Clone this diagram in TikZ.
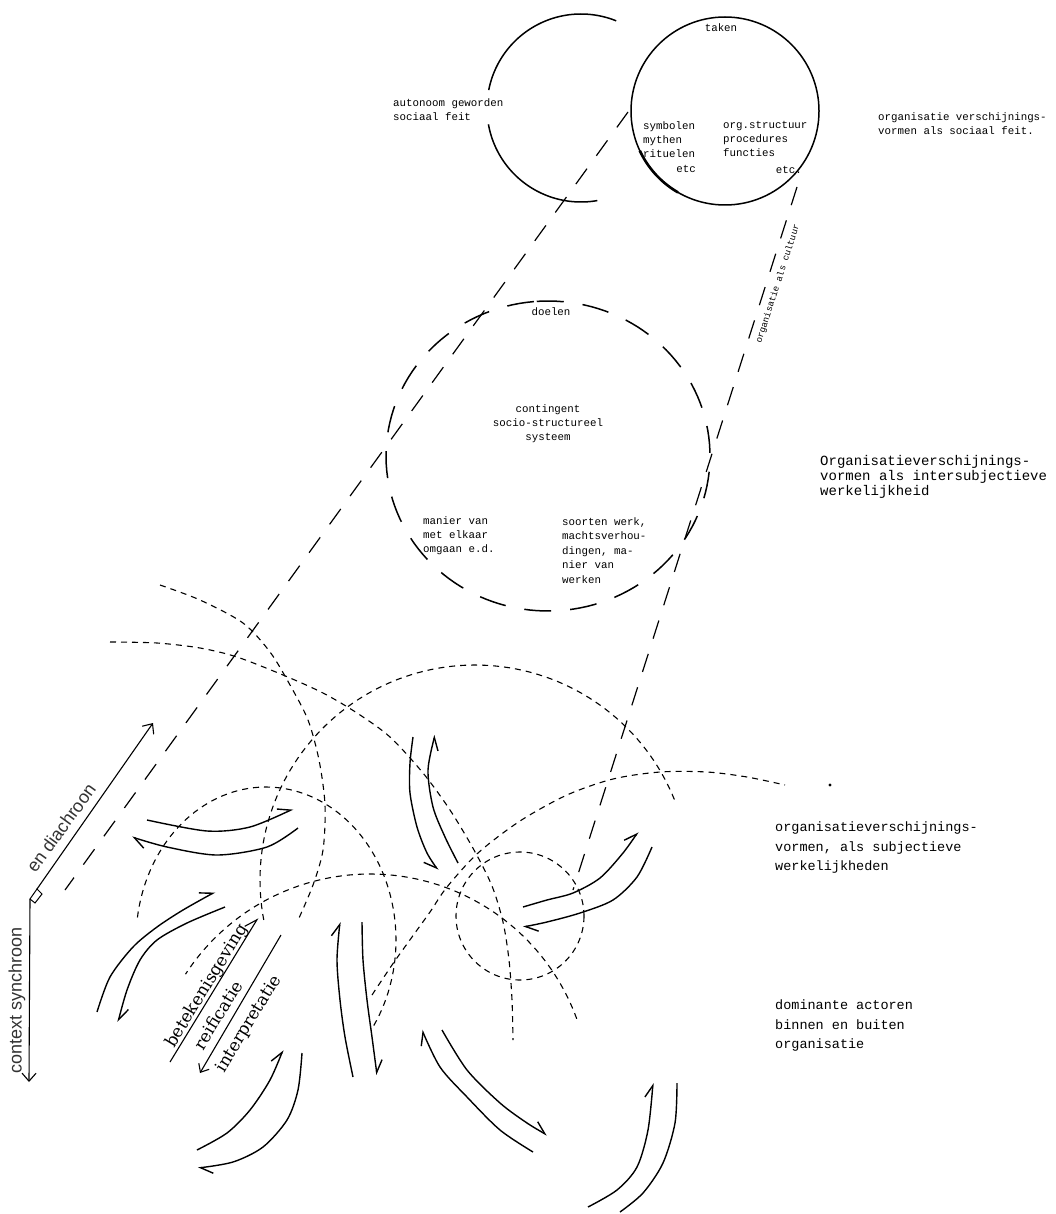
\documentclass[tikz,border=0pt]{standalone}
\usepackage{fontspec}
\newfontfamily\twf{Liberation Mono}
\newfontfamily\sansf{Liberation Sans}
\newfontfamily\serf{DejaVu Serif}
\usetikzlibrary{arrows.meta}
\begin{document}
\begin{tikzpicture}[x=1pt,y=-1pt,
  solidc/.style={line width=1.5pt},
  ldash/.style={line width=1.2pt, dash pattern=on 19pt off 16pt},
  cdash/.style={line width=1.5pt, dash pattern=on 27pt off 19pt},
  sdash/.style={line width=1.1pt, dash pattern=on 6pt off 5pt},
  hl/.style={line width=1.4pt, -{Straight Barb[harpoon,length=12pt,width=14pt]}},
  hr/.style={line width=1.4pt, -{Straight Barb[harpoon,swap,length=12pt,width=14pt]}},
  hand/.style={line width=1.4pt},
  axisarr/.style={line width=1.1pt, -{Straight Barb[length=8pt,width=14pt]}},
  tws/.style={font=\twf\fontsize{10.8}{14}\selectfont, inner sep=0pt, align=left},
  twm/.style={font=\twf\fontsize{10.8}{13.5}\selectfont, inner sep=0pt},
  twb/.style={font=\twf\fontsize{14}{15}\selectfont, inner sep=0pt, align=left},
  twc/.style={font=\twf\fontsize{13.5}{19.5}\selectfont, inner sep=0pt, align=left},
  axtext/.style={font=\sansf\fontsize{18}{20}\selectfont, inner sep=0pt, text=black!80},
  sertext/.style={font=\serf\fontsize{17}{19}\selectfont, inner sep=0pt, rotate=58.6},
]
\fill[white] (0,0) rectangle (1055,1214);
\useasboundingbox (0,0) rectangle (1055,1214);

% ---------- top circles ----------
\draw[solidc] plot[domain=68:169,samples=60] ({581+94*cos(\x)},{108-94*sin(\x)});
\draw[solidc] plot[domain=190:280,samples=60] ({581+94*cos(\x)},{108-94*sin(\x)});
\draw[solidc] (725,111) circle [radius=94pt];
\draw[line width=2.6pt] plot[domain=205:240,samples=30] ({725+94*cos(\x)},{111-94*sin(\x)});

\node[tws, anchor=north west] (auto) at (393,98) {autonoom geworden\\sociaal feit};
\node[twm] (taken) at (721,28) {taken};
\node[tws, anchor=north west] (symb) at (643,121) {symbolen\\mythen\\rituelen};
\node[twm, anchor=east] (etc1) at (696,169) {etc};
\node[tws, anchor=north west] (org) at (723,121) {org.structuur\\procedures\\functies};
\node[twm, anchor=east] (etc2) at (802,170) {etc.};
\node[tws, anchor=north west] (sfeit) at (878,112) {organisatie verschijnings-\\vormen als sociaal feit.};

% ---------- long dashed projection lines ----------
\coordinate (l1a) at (628,112);
\coordinate (l1b) at (65,890);
\coordinate (l2a) at (797,187);
\coordinate (l2b) at (573,890);
\draw[ldash] (l1a) -- (l1b);
\draw[ldash] (l2a) -- (l2b);
\node[font=\twf\fontsize{9}{10}\selectfont, inner sep=0pt, rotate=72] (cult) at (778,284) {organisatie als cultuur};

% ---------- middle dashed circle ----------
\draw[cdash] plot[domain=95:455,samples=140] ({548+162*cos(\x)},{456-155*sin(\x)});
\node[twm] (doelen) at (551,312) {doelen};
\node[tws, align=center] (cont) at (548,424) {contingent\\socio-structureel\\systeem};
\node[tws, anchor=north west] (manier) at (423,516) {manier van\\met elkaar\\omgaan e.d.};
\node[font=\twf\fontsize{10.8}{14.5}\selectfont, inner sep=0pt, align=left, anchor=north west] (soorten) at (562,517) {soorten werk,\\machtsverhou-\\dingen, ma-\\nier van\\werken};

\node[twb, anchor=north west] (inter) at (820,455) {Organisatieverschijnings-\\vormen als intersubjectieve\\werkelijkheid};

% ---------- bottom dashed circles ----------
\draw[sdash] plot[smooth] coordinates {(110,642) (157,643) (200,648) (237,657) (283,675) (323,693) (357,713) (390,737) (423,773) (450,810) (474,850) (492,886) (503,922) (509,960) (512,1000) (513,1040)};
\draw[sdash] plot[smooth] coordinates {(160,585) (200,600) (243,623) (270,652) (290,685) (308,720) (319,760) (325,805) (323,850) (313,885) (299,918)};
\draw[sdash] plot[domain=22:191,samples=90] ({475+215*cos(\x)},{880-215*sin(\x)});
\draw[sdash] plot[domain=-34:172,samples=90] ({266+130*cos(\x)},{940-153*sin(\x)});
\draw[sdash] (520,916) circle [radius=64pt];
\draw[sdash] plot[domain=20:147,samples=80] ({370+220*cos(\x)},{1094-220*sin(\x)});
\draw[sdash] plot[smooth] coordinates {(372,995) (392,965) (412,937) (430,912) (447,887) (478,853) (520,821) (567,795) (613,779) (660,772) (707,772) (747,777) (785,785)};
\fill (830,785) circle [radius=1.6pt];

% ---------- hand-drawn double arrows ----------
\draw[hl] plot[smooth] coordinates {(147,820) (207,831) (250,827) (293,809)};
\draw[hl] plot[smooth] coordinates {(298,828) (267,847) (217,855) (167,847) (132,837)};
\draw[hl] plot[smooth] coordinates {(97,1012) (110,977) (133,947) (157,927) (183,910) (215,892)};
\draw[hl] plot[smooth] coordinates {(225,907) (187,923) (157,940) (140,960) (127,990) (118,1022)};
\draw[hl] plot[smooth] coordinates {(197,1150) (227,1133) (250,1110) (270,1080) (283,1050)};
\draw[hl] plot[smooth] coordinates {(302,1053) (298,1090) (287,1120) (263,1147) (233,1162) (198,1168)};
\draw[hl] plot[smooth] coordinates {(353,1077) (345,1037) (340,1000) (337,960) (340,922)};
\draw[hl] plot[smooth] coordinates {(362,922) (363,960) (367,1000) (372,1037) (377,1075)};
\draw[hl] plot[smooth] coordinates {(533,1152) (500,1130) (467,1097) (440,1067) (422,1030)};
\draw[hl] plot[smooth] coordinates {(442,1030) (467,1070) (500,1103) (527,1123) (547,1135)};
\draw[hl] plot[smooth] coordinates {(588,1207) (617,1190) (637,1167) (648,1130) (653,1083)};
\draw[hand] plot[smooth] coordinates {(677,1083) (675,1123) (663,1163) (643,1193) (620,1212)};
\draw[hr] plot[smooth] coordinates {(413,737) (410,763) (410,793) (417,827) (427,853) (438,870)};
\draw[hr] plot[smooth] coordinates {(458,863) (445,837) (433,807) (428,770) (435,735)};
\draw[hl] plot[smooth] coordinates {(523,907) (547,900) (573,893) (600,878) (623,853) (638,832)};
\draw[hl] plot[smooth] coordinates {(652,847) (637,877) (613,900) (580,913) (547,922) (523,927)};

% ---------- betekenisgeving etc ----------
\coordinate (u1a) at (170,1062);
\coordinate (u1b) at (258,918);
\coordinate (u2a) at (281,935);
\coordinate (u2b) at (200,1073);
\draw[hl, line width=1.1pt] (u1a) -- (u1b);
\draw[line width=1.1pt, -{Straight Barb[length=7pt,width=12pt]}] (u2a) -- (u2b);
\node[sertext] (bet) at (207,986) {betekenisgeving};
\node[sertext] (rei) at (218,1015) {reificatie};
\node[sertext] (int) at (249,1024) {interpretatie};

% ---------- time axes ----------
\coordinate (kd) at (37,889);
\coordinate (kv) at (30,899);
\coordinate (t1) at (153,723);
\coordinate (t2) at (29,1082);
\draw[line width=1pt] (kv) -- (kd) -- (42,894) -- (35,903) -- cycle;
\draw[axisarr] (kd) -- (t1);
\draw[axisarr] (kv) -- (t2);
\node[axtext, rotate=54] (diach) at (61,828) {en diachroon};
\node[axtext, rotate=90] (synch) at (17,1000) {context synchroon};

% ---------- right labels ----------
\node[twc, anchor=north west] (subj) at (775,822) {organisatieverschijnings-\\vormen, als subjectieve\\werkelijkheden};
\node[twc, anchor=north west] (dom) at (775,1000) {dominante actoren\\binnen en buiten\\organisatie};
\end{tikzpicture}
\end{document}
